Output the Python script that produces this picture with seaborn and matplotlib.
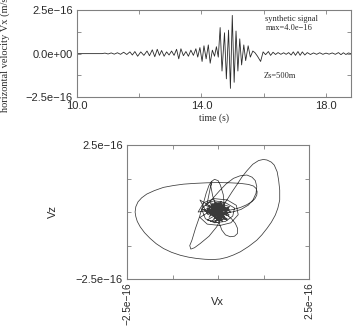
import numpy as np
import pandas as pd
import matplotlib
matplotlib.use("Agg")
import matplotlib.pyplot as plt
import seaborn as sns

# seismogram extrema (time in s, Vx in units of 1e-16 m/s)
t_peaks = [10.0, 10.8, 10.9, 11.0, 11.1, 11.2, 11.3, 11.4, 11.5, 11.6, 11.7, 11.78, 11.86, 11.95,
           12.05, 12.15, 12.25, 12.33, 12.42, 12.5, 12.58, 12.65, 12.72, 12.8, 12.88, 12.96,
           13.04, 13.12, 13.2, 13.27, 13.34, 13.42, 13.5, 13.58, 13.66, 13.74, 13.82, 13.88, 13.95,
           14.02, 14.08, 14.15, 14.22, 14.28, 14.35, 14.42, 14.48, 14.54, 14.6, 14.66, 14.74, 14.8,
           14.87, 14.93, 14.99, 15.05, 15.11, 15.17, 15.23, 15.29, 15.36, 15.42, 15.5, 15.57, 15.65,
           15.72, 15.8, 15.9, 15.98, 16.06, 16.15, 16.22, 16.3, 16.38, 16.46, 16.55, 16.64, 16.72,
           16.8, 16.88, 16.95, 17.02, 17.1, 17.17, 17.24, 17.32, 17.4, 17.5, 17.6, 17.7, 17.8, 17.9,
           18.0, 18.1, 18.2, 18.3, 18.4, 18.48, 18.56, 18.64, 18.72, 18.8]
vx_peaks = [0.0, 0.0, 0.03, -0.02, 0.04, -0.03, 0.05, -0.04, 0.08, -0.05, 0.1, -0.08, 0.12, -0.15,
            0.1, -0.1, 0.15, -0.12, 0.22, -0.18, 0.25, -0.1, 0.18, -0.15, 0.1, -0.08,
            0.15, -0.1, 0.25, -0.3, 0.28, -0.12, 0.12, -0.15, 0.2, -0.1, 0.28, -0.2, 0.35,
            -0.45, 0.45, -0.3, 0.5, -0.55, 0.2, -0.15, 0.4, -0.2, 1.5, -1.0, 1.2, -1.45,
            1.35, -2.0, 2.2, -1.65, 1.3, -1.0, 0.85, -0.65, 0.5, -0.4, 0.45, -0.2, 0.15,
            0.05, -0.15, -0.45, 0.1, -0.06, 0.12, -0.1, 0.08, -0.05, 0.06, -0.04, 0.05, -0.04,
            0.06, -0.08, 0.1, -0.1, 0.12, -0.1, 0.1, -0.08, 0.06, -0.05, 0.04, -0.04, 0.05, -0.04,
            0.03, -0.03, 0.04, -0.04, 0.06, -0.06, 0.05, -0.05, 0.04, 0.0]

# particle motion path, read along the loops (units of 1e-16 m/s)
pm_x = [
    # central scribble
    0.0, -0.15, 0.1, -0.2, 0.2, -0.1, 0.05, -0.25, 0.15, -0.05, 0.25, -0.3, 0.1, -0.12, 0.18,
    -0.08, 0.12, -0.22, 0.02, 0.22, -0.18, 0.08, -0.05, 0.15, -0.28, 0.05,
    -0.35, 0.3, -0.1, 0.32, -0.3, 0.0, 0.28, -0.22, 0.12, -0.38, 0.2, -0.15, 0.35, -0.05,
    -0.25, 0.1, -0.32, 0.25, 0.0, -0.18, 0.3, -0.08, 0.15, -0.28,
    -0.5, -0.2, 0.05, -0.1, 0.12,
    # tall tilted loop
    -0.05, -0.15, -0.2, -0.17, -0.1, 0.0, 0.06, 0.14, 0.17, 0.1, -0.04, -0.25, -0.49, -0.65,
    -0.75, -0.78, -0.72, -0.62, -0.51, -0.42, -0.33, -0.25, -0.18,
    # upper right loop
    -0.31, -0.12, 0.056, 0.22, 0.42, 0.6, 0.79, 0.93, 1.02, 1.06, 1.04, 0.96, 0.83, 0.63,
    0.42, 0.2, 0.056,
    # lower loop
    0.01, 0.04, 0.1, 0.2, 0.33, 0.45, 0.53, 0.53, 0.47, 0.36, 0.24, 0.1,
    # rings round the centre
    -0.45, -0.3, -0.1, 0.2, 0.45, 0.4, 0.2, -0.1, -0.35, -0.45, -0.3, 0.0, 0.15, -0.2, 0.3, -0.1,
    -0.55, -0.4, -0.1, 0.25, 0.5, 0.55, 0.35, 0.05, -0.3, -0.5, -0.2, 0.1,
    # big loop
    0.05, 0.24, 0.38, 0.51, 0.65, 0.79, 0.95, 1.11, 1.24, 1.34, 1.46, 1.54, 1.62, 1.66, 1.69,
    1.69, 1.64, 1.57, 1.46, 1.34, 1.2, 1.06, 0.84, 0.61, 0.42, 0.24, 0.05, -0.13, -0.36, -0.59,
    -0.82, -1.04, -1.28, -1.5, -1.7, -1.87, -2.02, -2.14, -2.22, -2.26, -2.28, -2.26, -2.2,
    -2.1, -1.96, -1.75, -1.5, -1.22, -0.95, -0.63, -0.31, 0.0, 0.33, 0.6, 0.83, 0.97, 1.04,
    1.07, 1.06, 1.01, 0.93, 0.78, 0.61, 0.42, 0.24,
    # final scribble
    0.0, -0.2, 0.15, -0.1, 0.2, -0.25, 0.05, -0.15, 0.1, -0.05, 0.18, -0.12, 0.02,
    -0.3, 0.25, -0.2, 0.3, -0.1, 0.12, -0.25, 0.2, 0.0]
pm_z = [
    0.0, 0.2, -0.15, -0.1, 0.15, 0.3, -0.3, 0.05, 0.25, -0.2, -0.05, 0.1, 0.3, -0.25, -0.1,
    0.18, 0.22, -0.05, -0.28, 0.08, 0.12, -0.2, 0.28, -0.12, 0.02, 0.1,
    0.25, -0.1, 0.38, 0.2, -0.3, -0.4, 0.15, 0.35, -0.35, 0.05, -0.25, -0.05, 0.0, 0.32,
    -0.2, 0.4, 0.12, -0.3, -0.15, 0.28, 0.1, -0.38, 0.25, -0.1,
    0.45, 0.2, -0.05, 0.1, -0.2,
    0.2, 0.6, 0.95, 1.15, 1.22, 1.17, 1.01, 0.65, 0.2, -0.2, -0.55, -0.9, -1.17, -1.33,
    -1.38, -1.25, -1.05, -0.6, -0.17, 0.25, 0.7, 1.0, 1.15,
    0.26, 0.55, 0.82, 1.05, 1.256, 1.35, 1.38, 1.3, 1.17, 0.95, 0.7, 0.46, 0.26, 0.1,
    0.01, -0.03, -0.05,
    -0.17, -0.45, -0.67, -0.85, -0.92, -0.9, -0.8, -0.6, -0.42, -0.24, -0.11, -0.03,
    0.1, 0.35, 0.42, 0.35, 0.15, -0.15, -0.35, -0.4, -0.25, 0.1, 0.05, -0.3, 0.25, 0.05, -0.15, 0.1,
    0.0, 0.35, 0.5, 0.45, 0.25, -0.1, -0.4, -0.5, -0.45, -0.2, 0.05, 0.1,
    0.1, 0.45, 0.75, 1.01, 1.3, 1.54, 1.78, 1.92, 1.96, 1.94, 1.86, 1.75, 1.5, 1.19, 0.82,
    0.45, 0.15, -0.11, -0.38, -0.61, -0.85, -1.05, -1.28, -1.48, -1.6, -1.69, -1.75, -1.77, -1.76,
    -1.73, -1.68, -1.61, -1.5, -1.36, -1.18, -0.98, -0.77, -0.55, -0.35, -0.17, 0.0, 0.2, 0.38,
    0.53, 0.67, 0.8, 0.92, 0.99, 1.04, 1.07, 1.09, 1.1, 1.09, 1.07, 1.03, 0.97, 0.88,
    0.76, 0.63, 0.5, 0.39, 0.27, 0.17, 0.1, 0.05,
    0.1, -0.1, 0.2, 0.3, -0.25, 0.05, -0.2, 0.15, 0.0, 0.05, -0.18, 0.22, -0.08,
    0.15, -0.25, -0.35, 0.1, 0.3, -0.3, 0.25, 0.35, 0.0]

scale = 1e-16
sig = pd.DataFrame({"t": t_peaks, "vx": np.array(vx_peaks) * scale})
pm = pd.DataFrame({"vx": np.array(pm_x) * scale, "vz": np.array(pm_z) * scale})

sns.set_style("ticks")
plt.rcParams["font.family"] = ["Liberation Sans", "DejaVu Sans"]
serif = ["Liberation Serif", "DejaVu Serif"]
frame = "#808080"
ink = "#2a2a2a"

fig = plt.figure(figsize=(3.53, 3.28), dpi=100)
ax1 = fig.add_axes([0.218, 0.704, 0.776, 0.265])
ax2 = fig.add_axes([0.360, 0.149, 0.516, 0.409])

# top: horizontal velocity trace
sns.lineplot(data=sig, x="t", y="vx", ax=ax1, color=ink, lw=0.6, sort=False, estimator=None)
ax1.set_xlim(10, 18.8)
ax1.set_ylim(-2.5e-16, 2.5e-16)
ax1.set_xticks([10, 12, 14, 16, 18])
ax1.set_xticklabels(["10.0", "", "14.0", "", "18.0"])
ax1.set_yticks([-2.5e-16, -1.25e-16, 0, 1.25e-16, 2.5e-16])
ax1.set_yticklabels(["\u22122.5e\u221216", "", "0.0e+00", "", "2.5e\u221216"])
ax1.set_xlabel("")
ax1.set_ylabel("")
ax1.text(0.686, 0.897, "synthetic signal", transform=ax1.transAxes, family=serif,
         fontsize=6, va="center", color=ink)
ax1.text(0.689, 0.793, "max=4.0e\u221216", transform=ax1.transAxes, family=serif,
         fontsize=6, va="center", color=ink)
ax1.text(0.682, 0.241, "Zs=500m", transform=ax1.transAxes, family=serif,
         fontsize=6, va="center", color=ink)
fig.text(0.607, 0.64, "time (s)", family=serif, fontsize=7, ha="center", va="center", color=ink)
fig.text(0.014, 0.837, "horizontal velocity Vx (m/s)", family=serif, fontsize=7.5,
         rotation=90, ha="center", va="center", color=ink)

# bottom: particle motion
sns.lineplot(data=pm, x="vx", y="vz", ax=ax2, color="#3a3a3a", lw=0.55, sort=False, estimator=None)
ax2.set_xlim(-2.5e-16, 2.5e-16)
ax2.set_ylim(-2.5e-16, 2.5e-16)
quarters = [-2.5e-16, -1.25e-16, 0, 1.25e-16, 2.5e-16]
ax2.set_xticks(quarters)
ax2.set_xticklabels(["\u22122.5e\u221216", "", "", "", "2.5e\u221216"], rotation=90)
ax2.set_yticks(quarters)
ax2.set_yticklabels(["\u22122.5e\u221216", "", "", "", "2.5e\u221216"])
ax2.set_xlabel("")
ax2.set_ylabel("")
fig.text(0.615, 0.079, "Vx", fontsize=8, ha="center", va="center", color=ink)
fig.text(0.150, 0.354, "Vz", fontsize=8, rotation=90, ha="center", va="center", color=ink)

for ax in (ax1, ax2):
    ax.tick_params(direction="in", top=True, right=True, length=3, width=0.6,
                   color=frame, labelsize=8, labelcolor=ink, pad=3)
    for s in ax.spines.values():
        s.set_color(frame)
        s.set_linewidth(0.8)
ax2.tick_params(axis="x", labelsize=7.3, pad=2)

fig.savefig("out.png", dpi=100)
